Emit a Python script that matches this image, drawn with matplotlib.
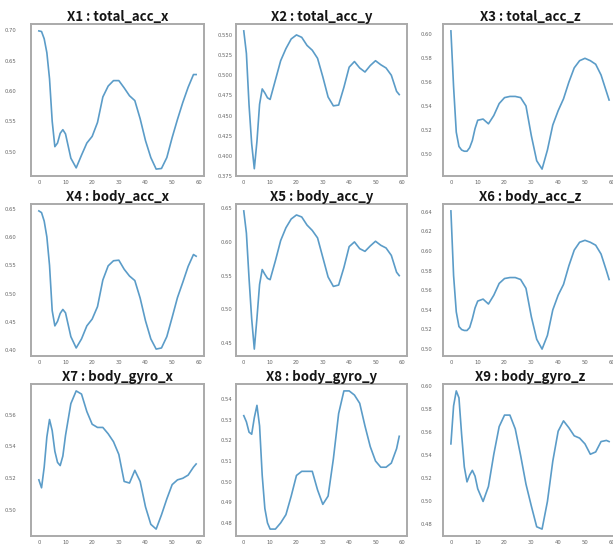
import numpy as np
import matplotlib
matplotlib.use("Agg")
import matplotlib.pyplot as plt

# sample positions (time steps)
x = [0, 1, 2, 3, 4, 5, 6, 7, 8, 9, 10, 12, 14, 16, 18, 20, 22, 24, 26, 28,
     30, 32, 34, 36, 38, 40, 42, 44, 46, 48, 50, 52, 54, 56, 58, 59]

titles = ["X1 : total_acc_x", "X2 : total_acc_y", "X3 : total_acc_z",
          "X4 : body_acc_x", "X5 : body_acc_y", "X6 : body_acc_z",
          "X7 : body_gyro_x", "X8 : body_gyro_y", "X9 : body_gyro_z"]

x1 = [0.699, 0.698, 0.686, 0.663, 0.620, 0.550, 0.508, 0.514, 0.530, 0.536, 0.529,
      0.489, 0.473, 0.494, 0.514, 0.525, 0.548, 0.590, 0.608, 0.617, 0.617, 0.605,
      0.592, 0.584, 0.554, 0.518, 0.490, 0.471, 0.472, 0.490, 0.523, 0.553, 0.581,
      0.606, 0.627, 0.627]
x2 = [0.555, 0.527, 0.463, 0.415, 0.384, 0.418, 0.464, 0.483, 0.478, 0.472, 0.470,
      0.494, 0.518, 0.533, 0.545, 0.550, 0.547, 0.537, 0.531, 0.521, 0.498, 0.473,
      0.462, 0.463, 0.485, 0.510, 0.517, 0.509, 0.504, 0.512, 0.518, 0.513, 0.509,
      0.500, 0.480, 0.476]
x3 = [0.603, 0.556, 0.518, 0.506, 0.503, 0.502, 0.502, 0.505, 0.511, 0.521, 0.528,
      0.529, 0.525, 0.532, 0.542, 0.547, 0.548, 0.548, 0.547, 0.540, 0.515, 0.494,
      0.487, 0.503, 0.524, 0.536, 0.546, 0.560, 0.572, 0.578, 0.580, 0.578, 0.575,
      0.566, 0.552, 0.545]
x4 = [0.646, 0.643, 0.628, 0.600, 0.550, 0.470, 0.443, 0.451, 0.465, 0.472, 0.466,
      0.424, 0.404, 0.420, 0.443, 0.455, 0.477, 0.524, 0.549, 0.558, 0.559, 0.543,
      0.531, 0.523, 0.492, 0.452, 0.420, 0.402, 0.404, 0.424, 0.458, 0.493, 0.520,
      0.548, 0.569, 0.566]
x5 = [0.646, 0.613, 0.546, 0.486, 0.441, 0.487, 0.537, 0.559, 0.552, 0.546, 0.544,
      0.572, 0.602, 0.621, 0.634, 0.640, 0.637, 0.625, 0.617, 0.606, 0.577, 0.548,
      0.534, 0.536, 0.562, 0.593, 0.600, 0.590, 0.586, 0.594, 0.601, 0.595, 0.591,
      0.580, 0.555, 0.550]
x6 = [0.641, 0.575, 0.538, 0.523, 0.520, 0.519, 0.519, 0.522, 0.531, 0.542, 0.549,
      0.551, 0.546, 0.555, 0.567, 0.572, 0.573, 0.573, 0.571, 0.562, 0.533, 0.510,
      0.500, 0.514, 0.540, 0.555, 0.566, 0.585, 0.601, 0.609, 0.611, 0.609, 0.606,
      0.597, 0.580, 0.571]
x7 = [0.519, 0.514, 0.527, 0.546, 0.557, 0.550, 0.537, 0.530, 0.528, 0.534, 0.547,
      0.567, 0.575, 0.573, 0.562, 0.554, 0.552, 0.552, 0.548, 0.543, 0.535, 0.518,
      0.517, 0.525, 0.518, 0.502, 0.491, 0.488, 0.497, 0.507, 0.516, 0.519, 0.520,
      0.522, 0.527, 0.529]
x8 = [0.532, 0.529, 0.524, 0.523, 0.531, 0.537, 0.527, 0.503, 0.487, 0.480, 0.477,
      0.477, 0.480, 0.484, 0.493, 0.503, 0.505, 0.505, 0.505, 0.496, 0.489, 0.493,
      0.511, 0.533, 0.544, 0.544, 0.542, 0.538, 0.527, 0.517, 0.510, 0.507, 0.507,
      0.509, 0.516, 0.522]
x9 = [0.550, 0.583, 0.596, 0.590, 0.558, 0.530, 0.517, 0.523, 0.527, 0.522, 0.511,
      0.500, 0.513, 0.541, 0.565, 0.575, 0.575, 0.563, 0.540, 0.515, 0.496, 0.478,
      0.476, 0.500, 0.535, 0.561, 0.570, 0.564, 0.557, 0.555, 0.550, 0.541, 0.543,
      0.552, 0.553, 0.552]
series = [x1, x2, x3, x4, x5, x6, x7, x8, x9]

yticks = [
    [0.50, 0.55, 0.60, 0.65, 0.70],
    [0.375, 0.400, 0.425, 0.450, 0.475, 0.500, 0.525, 0.550],
    [0.50, 0.52, 0.54, 0.56, 0.58, 0.60],
    [0.40, 0.45, 0.50, 0.55, 0.60, 0.65],
    [0.45, 0.50, 0.55, 0.60, 0.65],
    [0.50, 0.52, 0.54, 0.56, 0.58, 0.60, 0.62, 0.64],
    [0.50, 0.52, 0.54, 0.56],
    [0.48, 0.49, 0.50, 0.51, 0.52, 0.53, 0.54],
    [0.48, 0.50, 0.52, 0.54, 0.56, 0.58, 0.60],
]
ydec = [2, 3, 2, 2, 2, 2, 2, 2, 2]
xticks = [0, 10, 20, 30, 40, 50, 60]

W, H = 613, 548
fig = plt.figure(figsize=(W / 100, H / 100), dpi=100)

lefts = [31, 236, 443]
widths = [173, 171, 174]
tops = [24, 204, 384]
hgt = 152
ypads = [10.5, 2.5, 7.5]

for i in range(9):
    r, c = divmod(i, 3)
    ax = fig.add_axes([lefts[c] / W, (H - tops[r] - hgt) / H, widths[c] / W, hgt / H])
    ax.plot(x, series[i], color="#5b9cc8", lw=1.2)
    ax.set_xticks(xticks)
    ax.set_xticklabels([str(t) for t in xticks])
    ax.set_yticks(yticks[i])
    ax.set_yticklabels([f"{v:.{ydec[i]}f}" for v in yticks[i]])
    ax.tick_params(axis="both", length=0, labelsize=3.8, labelcolor="#666666")
    ax.tick_params(axis="x", pad=3)
    ax.tick_params(axis="y", pad=ypads[c])
    for s in ax.spines.values():
        s.set_color("#aaaaaa")
        s.set_linewidth(1.4)
    ax.set_title(titles[i], fontsize=9.5, fontweight="bold", color="#151515", pad=2.5,
                 family=["Noto Sans CJK KR", "DejaVu Sans"])

fig.savefig("out.png", dpi=100)
